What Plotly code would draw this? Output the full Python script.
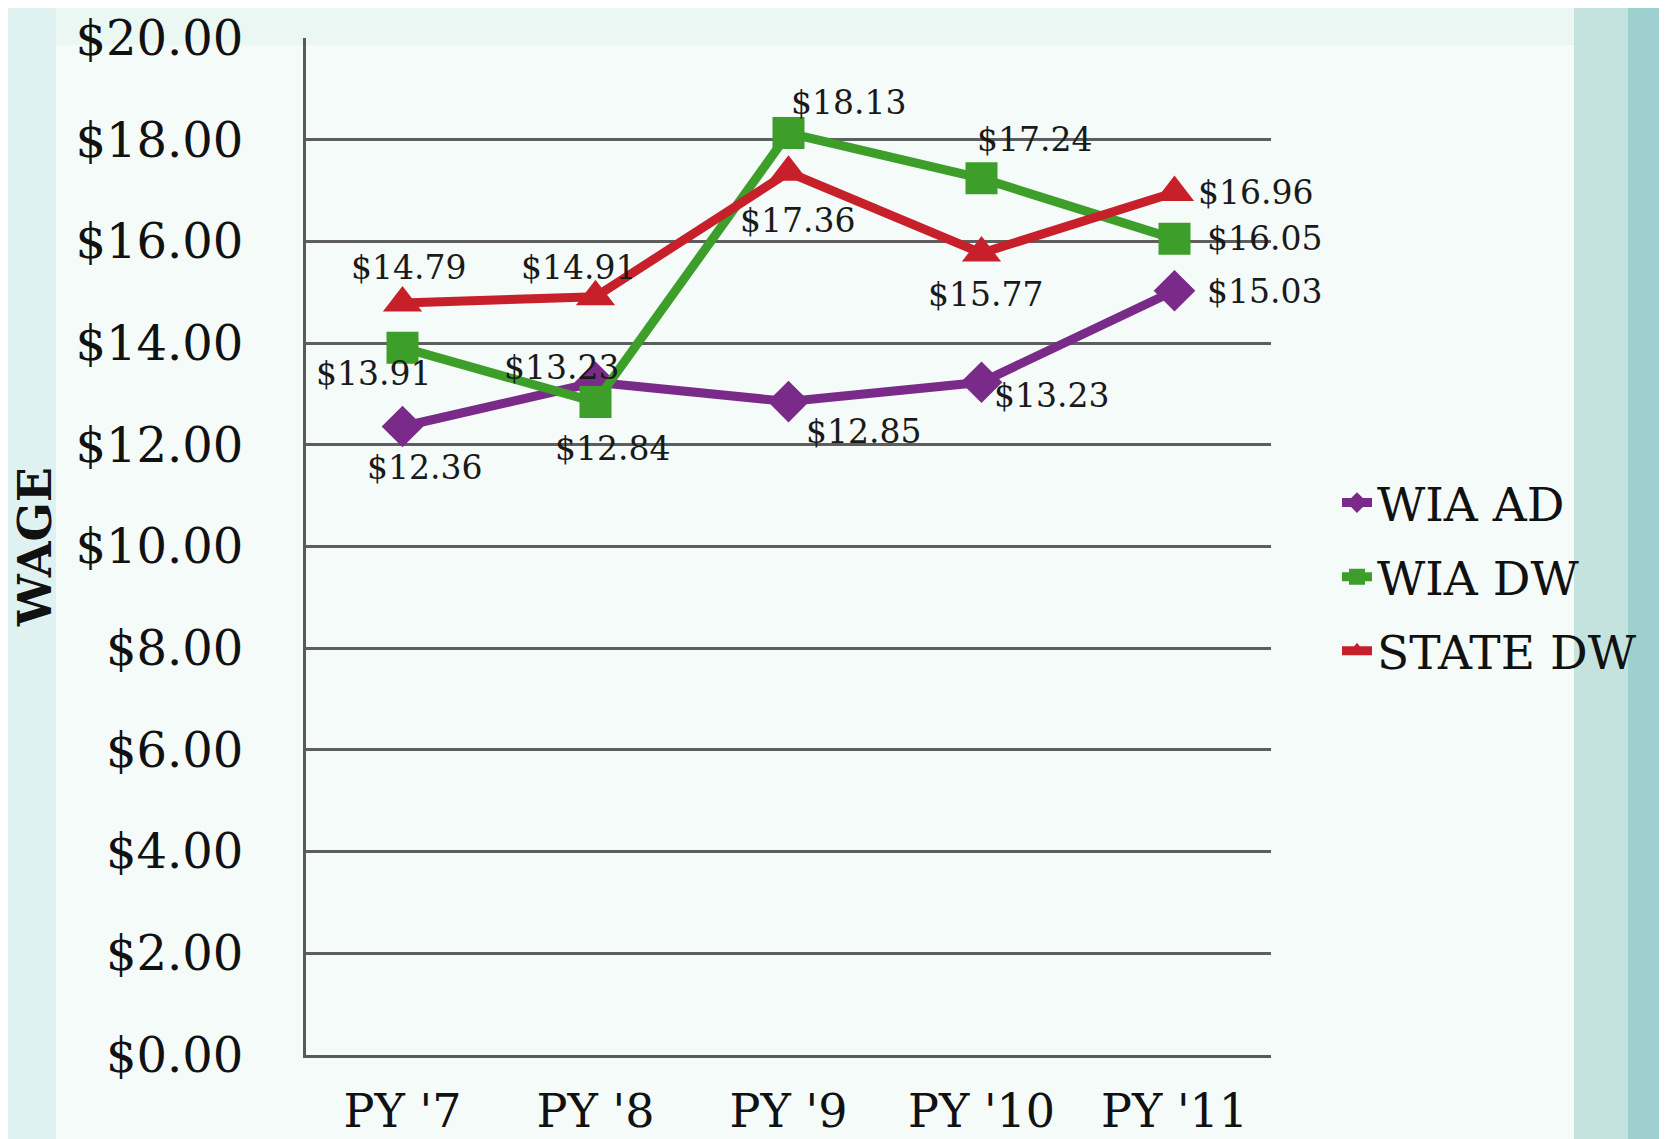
import plotly.graph_objects as go

categories = ["PY '7", "PY '8", "PY '9", "PY '10", "PY '11"]
wia_ad = [12.36, 13.23, 12.85, 13.23, 15.03]
wia_dw = [13.91, 12.84, 18.13, 17.24, 16.05]
state_dw = [14.79, 14.91, 17.36, 15.77, 16.96]
y_ticks = [0, 2, 4, 6, 8, 10, 12, 14, 16, 18, 20]
y_tick_text = ["$%.2f" % v for v in y_ticks]

def labels(vals):
    return ["$%.2f" % v for v in vals]

FONT = "DejaVu Serif"
fig = go.Figure()

# label offsets (pixels) relative to each point: styling only
series = [
    ("WIA AD", wia_ad, "#7a2a88", "diamond", 32,
     [(22, -41), (-34, 15), (75, -30), (70, -13), (90, -1)]),
    ("WIA DW", wia_dw, "#3d9e2a", "square", 32,
     [(-29, -26), (17, -46), (60, 31), (53, 39), (90, 0)]),
    ("STATE DW", state_dw, "#c8202b", "triangle-up", 34,
     [(6, 35), (-17, 29), (9, -48), (4, -41), (81, 0)]),
]
for name, vals, color, sym, size, shifts in series:
    fig.add_trace(go.Scatter(
        x=categories, y=vals, name=name, legendgroup=name,
        mode="lines+markers",
        line=dict(color=color, width=9),
        marker=dict(symbol=sym, size=size, color=color),
        cliponaxis=False,
    ))
    for cat, v, txt, (dx, dy) in zip(categories, vals, labels(vals), shifts):
        fig.add_annotation(x=cat, y=v, text=txt, showarrow=False,
                           xshift=dx, yshift=dy,
                           font=dict(family=FONT, size=33, color="#1a1a1a"))

W, H = 1667, 1139
OX, OY = 7, 8  # page offset compensation
L, R, T, B = 305 - OX, 1270 - OX, 38 - OY, 1055 - OY
def px(p):
    return (p - OX - L) / (R - L)
def py(p):
    return (B - (p - OY)) / (B - T)

shapes = [
    dict(type="rect", xref="paper", yref="paper", x0=px(-20), x1=px(1720), y0=py(1220), y1=py(-20),
         fillcolor="#eaf7f3", line=dict(width=0), layer="below"),
    dict(type="rect", xref="paper", yref="paper", x0=px(55), x1=px(1573), y0=py(1220), y1=py(45),
         fillcolor="#f4fbf8", line=dict(width=0), layer="below"),
    dict(type="rect", xref="paper", yref="paper", x0=px(-20), x1=px(55), y0=py(1220), y1=py(-20),
         fillcolor="#dff1f1", line=dict(width=0), layer="below"),
    dict(type="rect", xref="paper", yref="paper", x0=px(1573), x1=px(1627), y0=py(1220), y1=py(-20),
         fillcolor="#c4e3df", line=dict(width=0), layer="below"),
    dict(type="rect", xref="paper", yref="paper", x0=px(1627), x1=px(1720), y0=py(1220), y1=py(-20),
         fillcolor="#9fd0d0", line=dict(width=0), layer="below"),
]

fig.update_layout(
    template="none",
    width=W, height=H,
    margin=dict(l=L, r=W - R, t=T, b=H - B, pad=0),
    paper_bgcolor="#eaf7f3",
    plot_bgcolor="#f8fcfa",
    font=dict(family=FONT, color="#111111"),
    shapes=shapes,
    showlegend=True,
    legend=dict(x=px(1336), y=py(577), xanchor="left", yanchor="middle",
                font=dict(family=FONT, size=47, color="#111111"),
                bgcolor="rgba(0,0,0,0)", traceorder="grouped", tracegroupgap=10,
                borderwidth=0),
    xaxis=dict(type="category", range=[-0.5, 4.5], showgrid=False, automargin=False,
               showline=True, linecolor="#5a5a5a", linewidth=3,
               tickfont=dict(family=FONT, size=46, color="#111111"),
               ticks="", ticklabelstandoff=14, ticklabeloverflow="allow"),
    yaxis=dict(range=[0, 20], tickvals=y_ticks, ticktext=y_tick_text, automargin=False,
               showgrid=True, gridcolor="#5e5e5e", gridwidth=2.5,
               showline=True, linecolor="#5a5a5a", linewidth=3,
               zeroline=False, ticks="", ticklabelstandoff=50, ticklabeloverflow="allow",
               tickfont=dict(family=FONT, size=48, color="#111111"),
               title=dict(text="<b>WAGE</b>", standoff=16,
                          font=dict(family=FONT, size=46, color="#111111"))),
)

fig.write_html("out.html")
